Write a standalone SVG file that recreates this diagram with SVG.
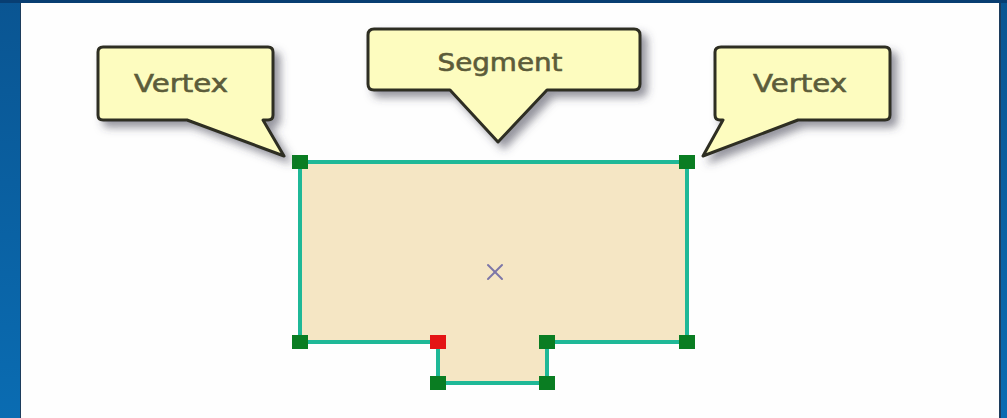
<svg xmlns="http://www.w3.org/2000/svg" width="1007" height="418" viewBox="0 0 1007 418">
<defs>
<linearGradient id="bg" x1="0" y1="0" x2="0" y2="1">
<stop offset="0" stop-color="#0a5592"/>
<stop offset="1" stop-color="#0a6cb2"/>
</linearGradient>
<filter id="sh" x="-20%" y="-20%" width="150%" height="160%">
<feDropShadow dx="6" dy="6" stdDeviation="4" flood-color="#404050" flood-opacity="0.55"/>
</filter>
</defs>
<style>
.callout{fill:#fdfcbf;stroke:#2e2e22;stroke-width:3;stroke-linejoin:round;filter:url(#sh)}
.lbl{font-family:"DejaVu Sans",Verdana,sans-serif;font-size:24px;fill:#5c5c3a;stroke:#5c5c3a;stroke-width:0.6}
.edge{fill:none;stroke:#1fb897;stroke-width:4;stroke-linejoin:miter}
.vx{fill:#0a7d22}
.vsel{fill:#e41414}
</style>
<rect x="0" y="0" width="1007" height="418" fill="url(#bg)"/>
<rect x="0" y="0" width="1007" height="3" fill="#083e72"/>
<rect x="20" y="3" width="981" height="415" fill="#1d3d5c"/>
<rect x="21" y="3" width="978" height="415" fill="#fefefe"/>

<g id="polygon">
<path d="M300,162 H687 V342 H547 V383 H438 V342 H300 Z" fill="#f5e6c4"/>
<g id="cross" stroke="#7c76a8" stroke-width="2" stroke-linecap="round">
<line x1="488" y1="265" x2="502" y2="279"/>
<line x1="502" y1="265" x2="488" y2="279"/>
</g>
</g>

<g id="connectors">
<path class="edge" d="M300,162 H687 V342 H547 V383 H438 V342 H300 Z"/>
</g>

<g id="vertices">
<rect class="vx" x="292" y="155" width="16" height="14"/>
<rect class="vx" x="679" y="155" width="16" height="14"/>
<rect class="vx" x="292" y="335" width="16" height="14"/>
<rect class="vx" x="679" y="335" width="16" height="14"/>
<rect class="vsel" x="430" y="335" width="16" height="14"/>
<rect class="vx" x="539" y="335" width="16" height="14"/>
<rect class="vx" x="430" y="376" width="16" height="14"/>
<rect class="vx" x="539" y="376" width="16" height="14"/>
</g>

<g id="callout-vertex-left">
<path class="callout" d="M103,47 H268 Q273,47 273,52 V115 Q273,120 268,120 H263 L284,156 L187,120 H103 Q98,120 98,115 V52 Q98,47 103,47 Z"/>
<text class="lbl" x="181" y="92" text-anchor="middle" textLength="94" lengthAdjust="spacingAndGlyphs">Vertex</text>
</g>

<g id="callout-segment">
<path class="callout" d="M374,29 H634 Q640,29 640,35 V84 Q640,90 634,90 H547 L498,142 L450,90 H374 Q368,90 368,84 V35 Q368,29 374,29 Z"/>
<text class="lbl" x="500" y="71" text-anchor="middle" textLength="125" lengthAdjust="spacingAndGlyphs">Segment</text>
</g>

<g id="callout-vertex-right">
<path class="callout" d="M721,47 H885 Q890,47 890,52 V115 Q890,120 885,120 H798 L703,156 L723,120 H720 Q715,120 715,115 V52 Q715,47 721,47 Z"/>
<text class="lbl" x="800" y="92" text-anchor="middle" textLength="94" lengthAdjust="spacingAndGlyphs">Vertex</text>
</g>
</svg>
